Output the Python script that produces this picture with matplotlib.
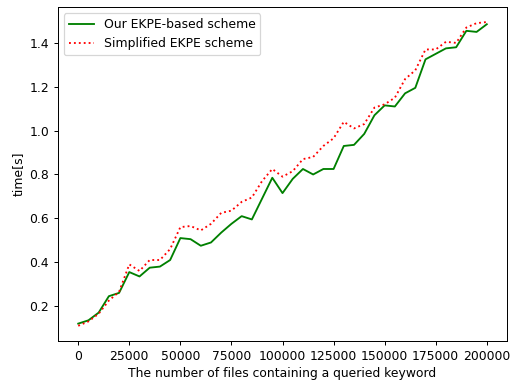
import matplotlib
matplotlib.use('Agg')
import matplotlib.pyplot as plt
import numpy as np

# Number of files containing the queried keyword
num_files = np.arange(0, 200001, 5000)

# Search time of our EKPE-based scheme
time_ekpe = [0.12, 0.135, 0.17, 0.245, 0.26, 0.355, 0.335, 0.375, 0.38, 0.41,
             0.51, 0.505, 0.475, 0.49, 0.535, 0.575, 0.61, 0.595, 0.69, 0.785,
             0.715, 0.78, 0.825, 0.80, 0.825, 0.825, 0.93, 0.935, 0.985, 1.07,
             1.115, 1.11, 1.17, 1.195, 1.325, 1.35, 1.375, 1.38, 1.455, 1.45,
             1.485]

# Search time of the simplified EKPE scheme
time_simplified = [0.11, 0.13, 0.165, 0.225, 0.265, 0.39, 0.36, 0.41, 0.41, 0.46,
                   0.56, 0.565, 0.545, 0.575, 0.625, 0.635, 0.675, 0.695, 0.77, 0.825,
                   0.79, 0.815, 0.87, 0.88, 0.93, 0.965, 1.04, 1.01, 1.03, 1.105,
                   1.12, 1.15, 1.235, 1.275, 1.37, 1.37, 1.405, 1.40, 1.47, 1.49,
                   1.495]

dpi = 89
fig = plt.figure(figsize=(516 / dpi, 381 / dpi), dpi=dpi)
ax = fig.add_axes([0.112, 0.105, 0.871, 0.877])

ax.plot(num_files, time_ekpe, 'g-', label='Our EKPE-based scheme')
ax.plot(num_files, time_simplified, 'r:', label='Simplified EKPE scheme')

ax.set_xlabel('The number of files containing a queried keyword', labelpad=3.5)
ax.set_ylabel('time[s]')
ax.set_xticks(np.arange(0, 200001, 25000))
ax.legend(loc='upper left')

plt.savefig('out.png', dpi=dpi)
